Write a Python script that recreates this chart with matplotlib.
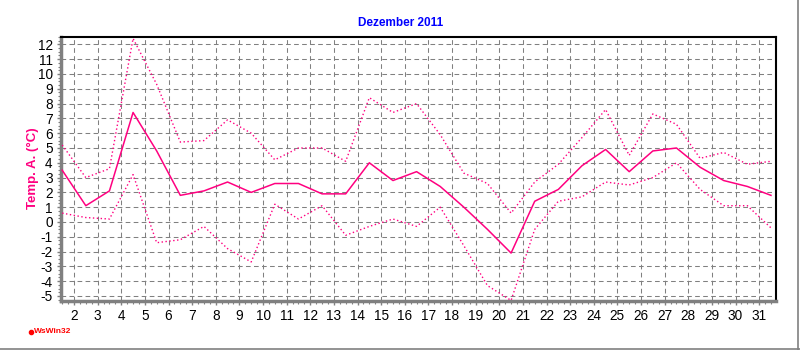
import numpy as np
import matplotlib
matplotlib.use("Agg")
import matplotlib.pyplot as plt
from matplotlib.ticker import MultipleLocator
from matplotlib.lines import Line2D

title = "Dezember 2011"
ylabel = "Temp. A. (°C)"
days = list(range(1, 32))
t_mean = [3.5, 1.1, 2.1, 7.4, 4.8, 1.8, 2.1, 2.7, 2.0, 2.6, 2.6, 1.9, 1.9, 4.0, 2.8, 3.4,
          2.4, 1.0, -0.5, -2.1, 1.4, 2.2, 3.8, 4.9, 3.4, 4.8, 5.0, 3.7, 2.8, 2.4, 1.8]
t_max = [5.2, 3.0, 3.6, 12.4, 9.3, 5.4, 5.5, 6.9, 6.0, 4.2, 5.0, 5.0, 4.1, 8.4, 7.4, 8.0,
         5.9, 3.3, 2.6, 0.6, 2.7, 3.9, 5.7, 7.6, 4.5, 7.3, 6.6, 4.3, 4.7, 3.9, 4.1]
t_min = [0.6, 0.3, 0.2, 3.2, -1.4, -1.2, -0.3, -1.8, -2.7, 1.2, 0.2, 1.1, -0.9, -0.3, 0.2, -0.3,
         1.0, -1.6, -4.3, -5.3, -0.5, 1.4, 1.7, 2.7, 2.5, 3.0, 4.0, 2.2, 1.1, 1.1, -0.4]
xtick_labels = [str(d) for d in range(2, 32)]
yticks = list(range(-5, 13))

plt.rcParams['font.family'] = ['Liberation Sans', 'DejaVu Sans']

fig = plt.figure(figsize=(8, 3.5), dpi=100)
ax = fig.add_axes([61/800, 1-301/350, (775.7-61)/800, (301-37)/350])

x = np.array(days) + 0.5
col = '#FF0080'
ax.plot(x, t_max, color=col, lw=1.0, linestyle=(0, (1, 1.8)), zorder=3)
ax.plot(x, t_min, color=col, lw=1.0, linestyle=(0, (1, 1.8)), zorder=3)
ax.plot(x, t_mean, color=col, lw=1.1, zorder=4)

ax.set_xlim(1.45, 31.7)
ax.set_ylim(-5.34, 12.5)

ax.set_xticks(range(2, 32))
ax.set_xticklabels(xtick_labels)
ax.xaxis.set_minor_locator(MultipleLocator(0.25))
ax.set_yticks(yticks)
ax.set_yticklabels([str(v) for v in yticks])
ax.yaxis.set_minor_locator(MultipleLocator(0.25))

ax.grid(True, which='major', color='#808080', lw=0.75, linestyle=(0, (4.5, 3.2)))
ax.tick_params(axis='both', which='major', labelsize=9.8, length=3, width=1, color='#808080', pad=3)
ax.tick_params(axis='both', which='minor', length=2, width=0.8, color='#808080')

for s in ['left', 'bottom']:
    ax.spines[s].set_color('#808080')
    ax.spines[s].set_linewidth(2.5)
for s in ['top', 'right']:
    ax.spines[s].set_color('black')
    ax.spines[s].set_linewidth(1.5)

fig.text(401/800, 1-23/350, title, color='#0000FF', fontsize=8.5, fontweight='bold',
         ha='center', va='center')
fig.text(33/800, 1-168/350, ylabel, color=col, fontsize=9.5, fontweight='bold',
         rotation=90, ha='center', va='center')
fig.text(34/800, 1-331.5/350, "WsWin32", color='#FF0000', fontsize=6, fontweight='bold',
         ha='left', va='center')
fig.add_artist(Line2D([31/800], [1-331.5/350], marker='o', markersize=3, markerfacecolor='#FF0000',
                      markeredgecolor='#FF0000', transform=fig.transFigure))
fig.add_artist(Line2D([0, 1], [1.5/350, 1.5/350], color='#808080', lw=1.2, transform=fig.transFigure))
fig.add_artist(Line2D([798/800, 798/800], [0, 1], color='#808080', lw=1.2, transform=fig.transFigure))

fig.savefig('out.png', dpi=100)
